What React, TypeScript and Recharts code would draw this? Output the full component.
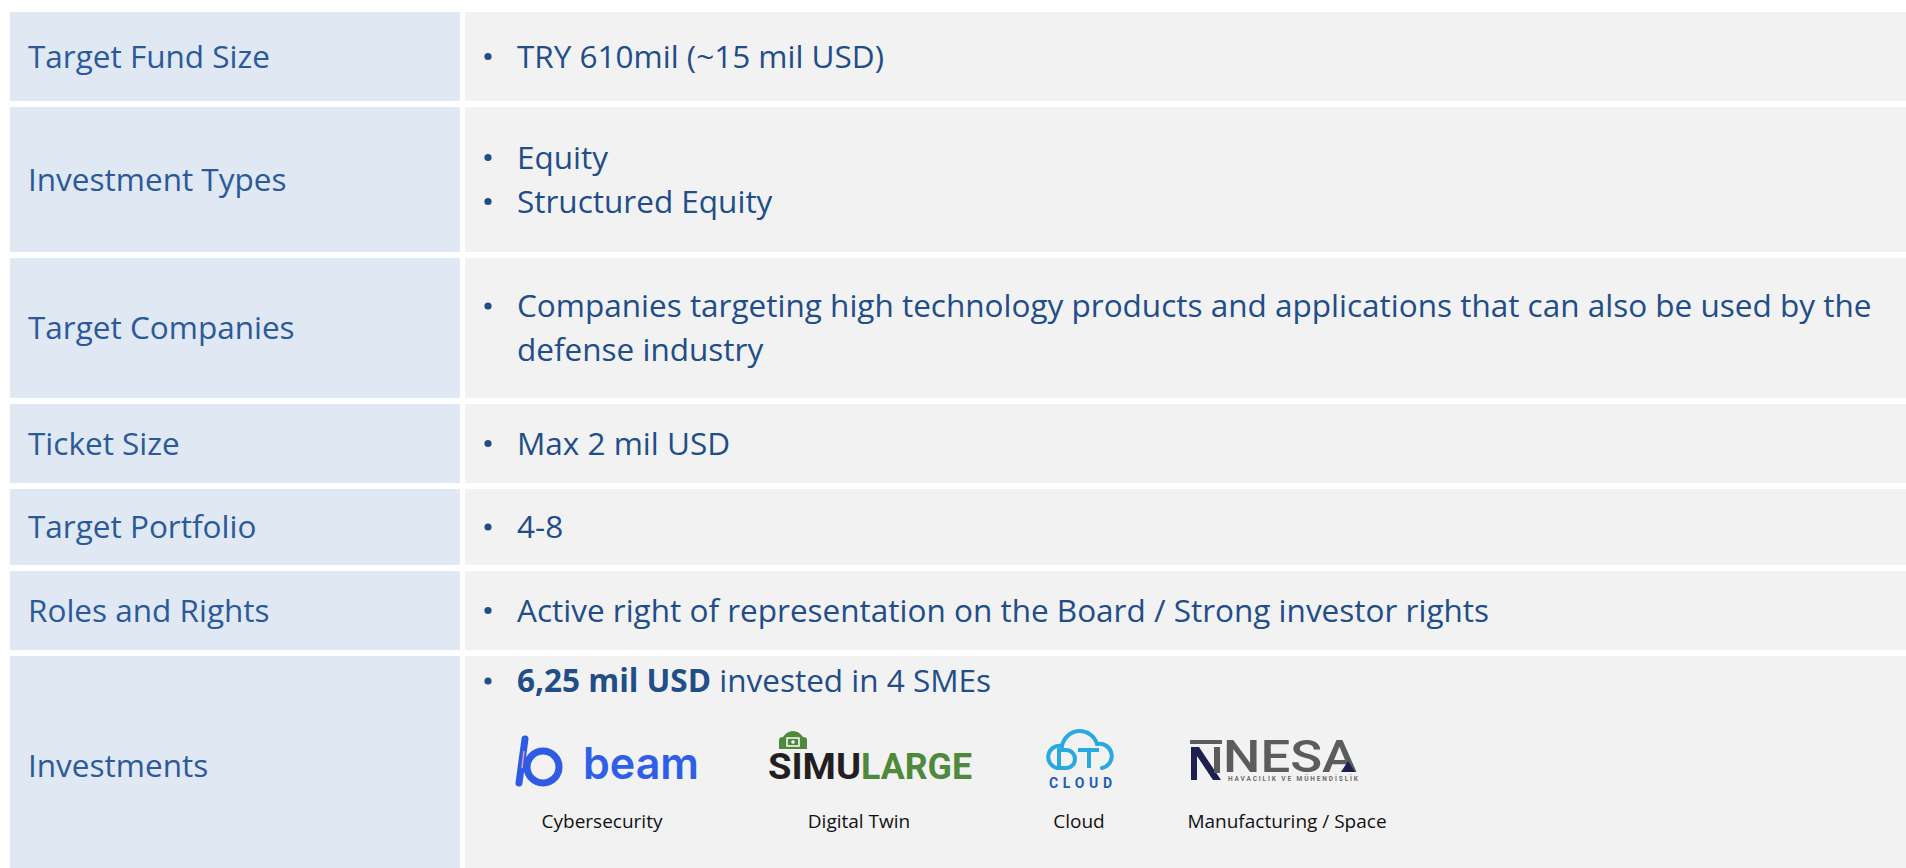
import React from "react";
import { Bar, BarChart, XAxis, YAxis } from "recharts";

// table rows, top to bottom
const ROW_LABELS = [
  "Target Fund Size",
  "Investment Types",
  "Target Companies",
  "Ticket Size",
  "Target Portfolio",
  "Roles and Rights",
  "Investments",
];

type Line = { text: string; bullet: boolean };

const ROW_LINES: Line[][] = [
  [{ text: "TRY 610mil (~15 mil USD)", bullet: true }],
  [
    { text: "Equity", bullet: true },
    { text: "Structured Equity", bullet: true },
  ],
  [
    { text: "Companies targeting high technology products and applications that can also be used by the", bullet: true },
    { text: "defense industry", bullet: false },
  ],
  [{ text: "Max 2 mil USD", bullet: true }],
  [{ text: "4-8", bullet: true }],
  [{ text: "Active right of representation on the Board / Strong investor rights", bullet: true }],
  [],
];

const INVEST_AMOUNT = "6,25 mil USD";
const INVEST_REST = " invested in 4 SMEs";
const COMPANIES = ["beam", "SIMU", "LARGE", "CLOUD", "NESA", "HAVACILIK VE MÜHENDİSLİK"];
const SECTORS = ["Cybersecurity", "Digital Twin", "Cloud", "Manufacturing / Space"];

// row heights in px (layout of the table)
const ROW_HEIGHTS = [89, 145, 140, 79, 76, 79, 220];
const TOP_PAD = 12;
const ROW_GAP = 6;
const TOTAL = TOP_PAD + ROW_HEIGHTS.reduce((a, b) => a + b, 0) + ROW_GAP * (ROW_HEIGHTS.length - 1);

const FONT = "'Open Sans', sans-serif";
const FS = 31.5;
const LABEL_BG = "#dfe8f3";
const CONTENT_BG = "#f2f2f2";
const LABEL_INK = "#2c5a98";
const CONTENT_INK = "#214d88";

function buildDatum(col: string) {
  const d: Record<string, any> = { col, pad: TOP_PAD };
  ROW_HEIGHTS.forEach((h, i) => {
    d["r" + i] = h;
    d["g" + i] = ROW_GAP;
  });
  return d;
}

// reversed axis hands us a negative height, so normalise the box
function box(p: any) {
  const h = Math.abs(p.height);
  const top = Math.min(p.y, p.y + p.height);
  return { x: p.x, y: top, width: Math.abs(p.width), height: h };
}

function Logos({ x, y }: { x: number; y: number }) {
  return (
    <g>
      {/* beam */}
      <line x1={x + 60} y1={y + 83} x2={x + 54} y2={y + 127} stroke="#2d5be3" strokeWidth={7} strokeLinecap="round" />
      <line x1={x + 59} y1={y + 95} x2={x + 57} y2={y + 112} stroke="#e7a0b0" strokeWidth={1.5} />
      <circle cx={x + 78} cy={y + 111} r={16} fill="none" stroke="#2d5be3" strokeWidth={7} />
      <text x={x + 118} y={y + 123} fontFamily="Inter, sans-serif" fontWeight={600} fontSize={44} fill="#2f5fe8" textLength={116} lengthAdjust="spacingAndGlyphs">
        {COMPANIES[0]}
      </text>
      {/* simularge */}
      <path d={`M${x + 314} ${y + 93} L${x + 314} ${y + 84} Q${x + 314} ${y + 81} ${x + 318} ${y + 81} Q${x + 322} ${y + 75} ${x + 328} ${y + 75} Q${x + 334} ${y + 75} ${x + 338} ${y + 81} Q${x + 342} ${y + 81} ${x + 342} ${y + 84} L${x + 342} ${y + 93} Z`} fill="#4f8a3c" />
      <rect x={x + 322} y={y + 82} width={12} height={8} fill="none" stroke="#fff" strokeWidth={1.5} />
      <circle cx={x + 328} cy={y + 86} r={1.8} fill="#fff" />
      <text x={x + 303} y={y + 123} fontFamily="Roboto, sans-serif" fontWeight={700} fontSize={36} fill="#231f20" textLength={93} lengthAdjust="spacingAndGlyphs">
        {COMPANIES[1]}
      </text>
      <text x={x + 396} y={y + 123} fontFamily="Roboto, sans-serif" fontWeight={700} fontSize={36} fill="#4f8a3c" textLength={111} lengthAdjust="spacingAndGlyphs">
        {COMPANIES[2]}
      </text>
      {/* dt cloud */}
      <path d={`M${x + 592} ${y + 112} A11 11 0 0 1 ${x + 597} ${y + 90} A18 18 0 0 1 ${x + 632} ${y + 88} A12 12 0 0 1 ${x + 637} ${y + 112}`} fill="none" stroke="#29a9e1" strokeWidth={4} strokeLinecap="round" />
      <path d={`M${x + 594} ${y + 94} L${x + 601} ${y + 94} A9 9 0 0 1 ${x + 601} ${y + 112} L${x + 594} ${y + 112} Z`} fill="none" stroke="#29a9e1" strokeWidth={4} />
      <path d={`M${x + 613} ${y + 94} L${x + 634} ${y + 94} M${x + 624} ${y + 94} L${x + 624} ${y + 112}`} fill="none" stroke="#29a9e1" strokeWidth={4} />
      <text x={x + 584} y={y + 132} fontFamily="Roboto, sans-serif" fontWeight={700} fontSize={14} fill="#1c5fb5" textLength={63} lengthAdjust="spacing">
        {COMPANIES[3]}
      </text>
      {/* nesa */}
      <rect x={x + 725} y={y + 84} width={32} height={4} fill="#5b5c5e" />
      <rect x={x + 726} y={y + 91} width={6} height={33} fill="#1c1f4f" />
      <polygon points={`${x + 726},${y + 91} ${x + 734},${y + 91} ${x + 756},${y + 124} ${x + 748},${y + 124}`} fill="#1c1f4f" />
      <rect x={x + 749} y={y + 91} width={6} height={26} fill="#5b5c5e" />
      <text x={x + 758} y={y + 116} fontFamily="Roboto, sans-serif" fontWeight={500} fontSize={44} fill="#5b5c5e" textLength={134} lengthAdjust="spacingAndGlyphs">
        {COMPANIES[4]}
      </text>
      <polygon points={`${x + 876},${y + 116} ${x + 883},${y + 105} ${x + 890},${y + 116}`} fill="#1c1f4f" />
      <text x={x + 763} y={y + 125} fontFamily="Roboto, sans-serif" fontWeight={700} fontSize={6.5} fill="#6b6c6e" textLength={130} lengthAdjust="spacing">
        {COMPANIES[5]}
      </text>
      {/* sector captions */}
      {[137, 394, 614, 822].map((dx, i) => (
        <text key={i} x={x + dx} y={y + 172} textAnchor="middle" fontFamily={FONT} fontSize={19} fill="#111">
          {SECTORS[i]}
        </text>
      ))}
    </g>
  );
}

function LabelCell(props: any, row: number) {
  const { x, y, width, height } = box(props);
  return (
    <g>
      <rect x={x} y={y} width={width} height={height} fill={LABEL_BG} />
      <text x={x + 18} y={y + height / 2 + 11} fontFamily={FONT} fontSize={FS} fill={LABEL_INK}>
        {ROW_LABELS[row]}
      </text>
    </g>
  );
}

function ContentCell(props: any, row: number) {
  const { x, y, width, height } = box(props);
  const lines = ROW_LINES[row];
  const cy = y + height / 2;
  const n = lines.length;
  return (
    <g>
      <rect x={x} y={y} width={width} height={height} fill={CONTENT_BG} />
      {lines.map((ln, k) => {
        const base = cy + 11 + (k - (n - 1) / 2) * 44;
        return (
          <g key={k}>
            {ln.bullet && <circle cx={x + 23} cy={base - 11} r={3.6} fill={CONTENT_INK} />}
            <text x={x + 52} y={base} fontFamily={FONT} fontSize={FS} fill={CONTENT_INK}>
              {ln.text}
            </text>
          </g>
        );
      })}
      {row === ROW_LABELS.length - 1 && (
        <g>
          <circle cx={x + 23} cy={y + 25} r={3.6} fill={CONTENT_INK} />
          <text x={x + 52} y={y + 36} fontFamily={FONT} fontSize={FS} fill={CONTENT_INK}>
            <tspan fontWeight={700}>{INVEST_AMOUNT}</tspan>
            <tspan>{INVEST_REST}</tspan>
          </text>
          <Logos x={x} y={y} />
        </g>
      )}
    </g>
  );
}

function Column({ col, width, cell }: { col: string; width: number; cell: (p: any, row: number) => React.ReactElement }) {
  return (
    <BarChart width={width} height={TOTAL} data={[buildDatum(col)]} margin={{ top: 0, right: 0, bottom: 0, left: 0 }} barCategoryGap={0}>
      <XAxis dataKey="col" type="category" hide />
      <YAxis type="number" domain={[0, TOTAL]} reversed hide allowDataOverflow />
      <Bar dataKey="pad" stackId="t" fill="transparent" isAnimationActive={false} />
      {ROW_HEIGHTS.flatMap((_, i) => [
        <Bar key={"r" + i} dataKey={"r" + i} stackId="t" isAnimationActive={false} shape={(p: any) => cell(p, i)} />,
        <Bar key={"g" + i} dataKey={"g" + i} stackId="t" fill="transparent" isAnimationActive={false} />,
      ])}
    </BarChart>
  );
}

export default function App() {
  return (
    <div style={{ position: "absolute", left: 0, top: 0, width: 1906, height: 868, overflow: "hidden", background: "#fff" }}>
      <div style={{ position: "absolute", left: 10, top: 0 }}>
        <Column col="label" width={450} cell={LabelCell} />
      </div>
      <div style={{ position: "absolute", left: 465, top: 0 }}>
        <Column col="content" width={1441} cell={ContentCell} />
      </div>
    </div>
  );
}
